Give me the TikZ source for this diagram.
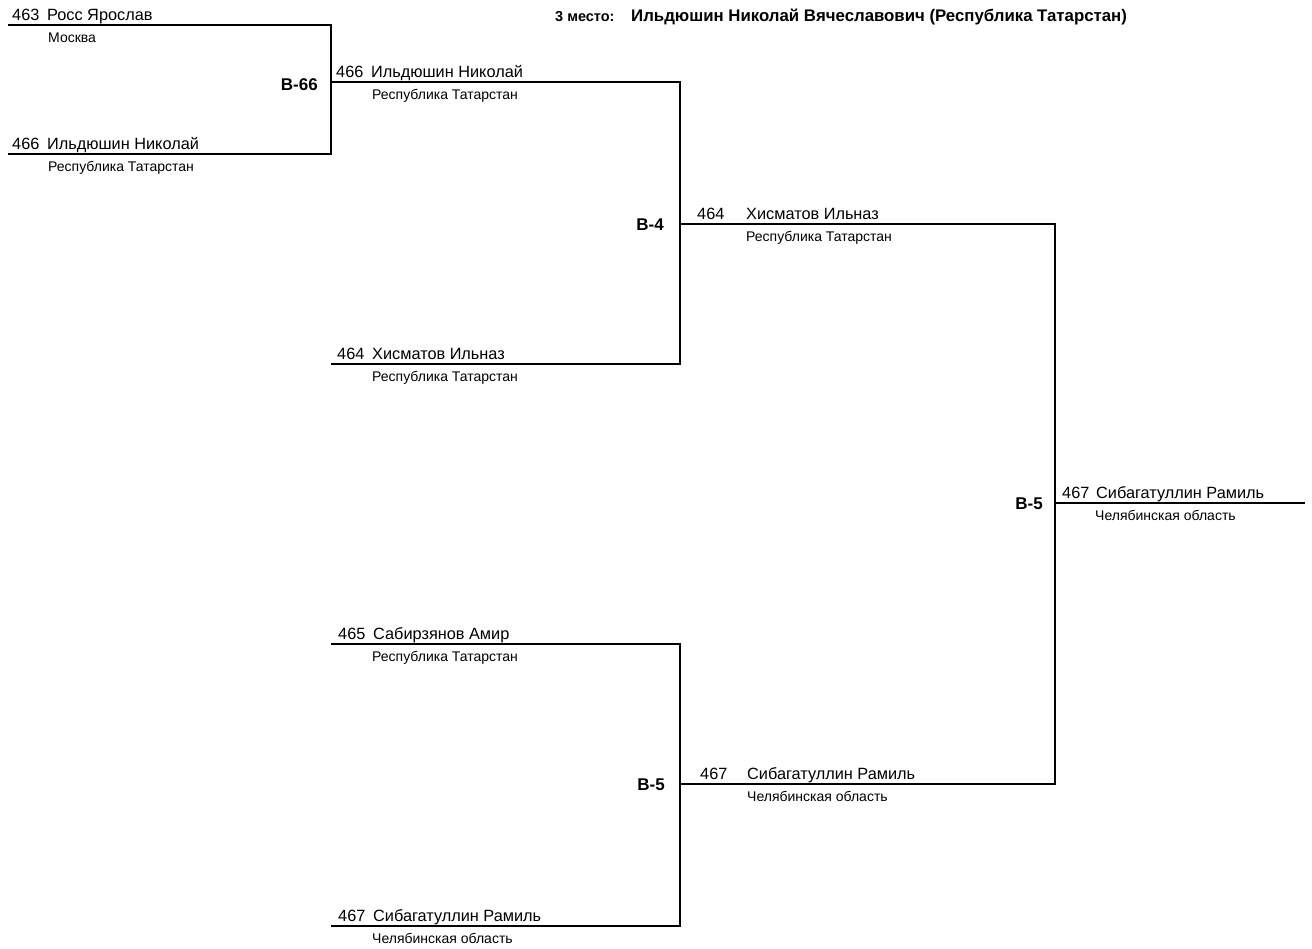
\documentclass[tikz,border=0pt]{standalone}
\usepackage{fontspec}
\setmainfont{Liberation Sans}
\newcommand\bentry[8]{%
  \node[numtxt] (#1num) at (#2,#5-5) {#6};
  \node[nametxt] (#1name) at (#3,#5-5) {#7};
  \node[clubtxt] (#1club) at (#4,#5+17) {#8};}
\begin{document}
\begin{tikzpicture}[x=1pt,y=-1pt,
  bracket/.style={line width=1.4pt, black},
  numtxt/.style={anchor=base west, inner sep=0pt, font=\fontsize{16.3}{18}\selectfont},
  nametxt/.style={anchor=base west, inner sep=0pt, font=\fontsize{16.3}{18}\selectfont},
  clubtxt/.style={anchor=base west, inner sep=0pt, font=\fontsize{14}{16}\selectfont},
  bout/.style={anchor=base east, inner sep=0pt, font=\bfseries\fontsize{17}{19}\selectfont},
  hdr/.style={anchor=base west, inner sep=0pt, font=\bfseries\fontsize{14.5}{16}\selectfont},
  hdrname/.style={anchor=base west, inner sep=0pt, font=\bfseries\fontsize{16.8}{18}\selectfont}]
\useasboundingbox (0,0) rectangle (1312,948);

% line coordinates
\coordinate (a1) at (8,25);    \coordinate (a1e) at (331,25);
\coordinate (a2) at (8,154);   \coordinate (a2e) at (331,154);
\coordinate (b1) at (331,82);  \coordinate (b1e) at (680,82);
\coordinate (b2) at (331,364); \coordinate (b2e) at (680,364);
\coordinate (c1) at (680,224); \coordinate (c1e) at (1055,224);
\coordinate (b3) at (331,644); \coordinate (b3e) at (680,644);
\coordinate (b4) at (331,926); \coordinate (b4e) at (680,926);
\coordinate (c2) at (680,784); \coordinate (c2e) at (1055,784);
\coordinate (d)  at (1055,503); \coordinate (de) at (1305,503);

\draw[bracket] (a1) -- (a1e) -- (a2e) -- (a2);
\draw[bracket] (b1) -- (b1e) -- (b2e) -- (b2);
\draw[bracket] (b3) -- (b3e) -- (b4e) -- (b4);
\draw[bracket] (c1) -- (c1e) -- (c2e) -- (c2);
\draw[bracket] (d) -- (de);

% header
\node[hdr] (place) at (555,21) {3 место:};
\node[hdrname] (placename) at (631,21) {Ильдюшин Николай Вячеславович (Республика Татарстан)};

% entries
\bentry{e1}{12}{47}{48}{25}{463}{Росс Ярослав}{Москва}
\bentry{e2}{12}{47}{48}{154}{466}{Ильдюшин Николай}{Республика Татарстан}
\bentry{e3}{336}{371}{372}{82}{466}{Ильдюшин Николай}{Республика Татарстан}
\bentry{e4}{337}{372}{372}{364}{464}{Хисматов Ильназ}{Республика Татарстан}
\bentry{e5}{697}{746}{746}{224}{464}{Хисматов Ильназ}{Республика Татарстан}
\bentry{e6}{338}{373}{372}{644}{465}{Сабирзянов Амир}{Республика Татарстан}
\bentry{e7}{338}{373}{372}{926}{467}{Сибагатуллин Рамиль}{Челябинская область}
\bentry{e8}{700}{747}{747}{784}{467}{Сибагатуллин Рамиль}{Челябинская область}
\bentry{e9}{1062}{1096}{1095}{503}{467}{Сибагатуллин Рамиль}{Челябинская область}

% bout labels
\node[bout] (bA) at (318,90) {B-66};
\node[bout] (bB) at (664,230) {B-4};
\node[bout] (bC) at (665,790) {B-5};
\node[bout] (bD) at (1043,509) {B-5};
\end{tikzpicture}
\end{document}
